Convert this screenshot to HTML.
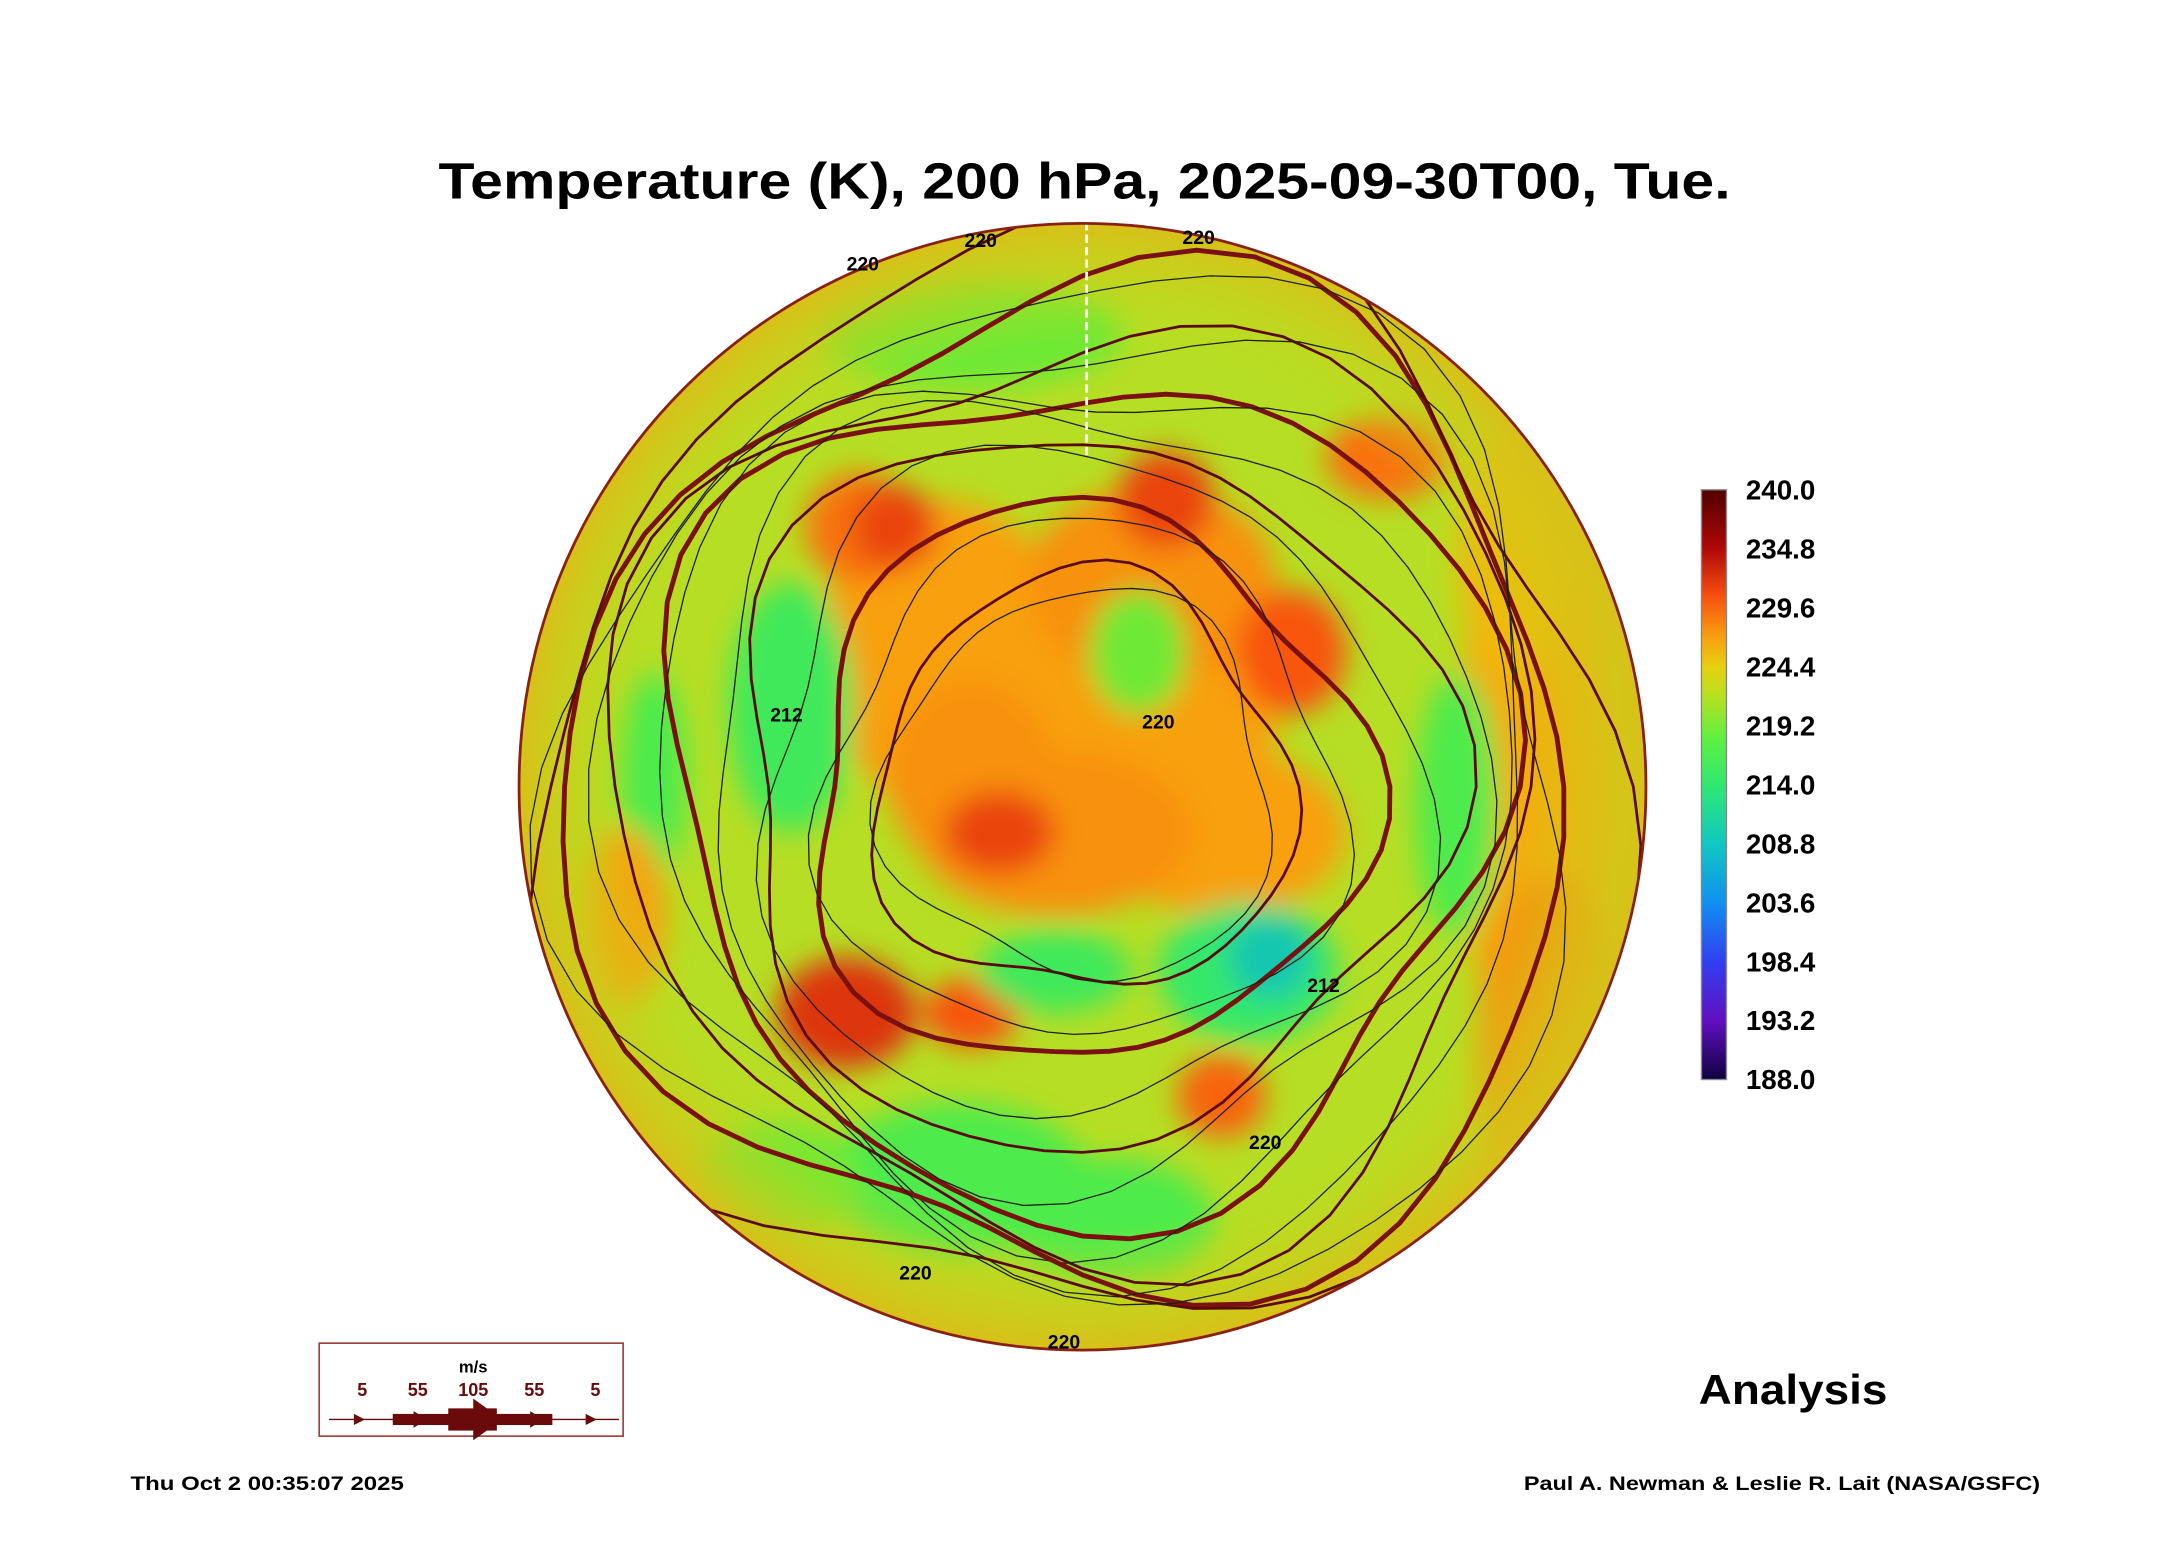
<!DOCTYPE html>
<html><head><meta charset="utf-8"><style>
html,body{margin:0;padding:0;background:#fff;}
svg{display:block;font-family:"Liberation Sans",sans-serif;}
</style></head><body>
<svg width="2165" height="1561" viewBox="0 0 1560 1125" preserveAspectRatio="none" xmlns="http://www.w3.org/2000/svg">
<defs>
<clipPath id="disk"><circle cx="780" cy="567" r="406"/></clipPath>
<filter id="blur" x="-20%" y="-20%" width="140%" height="140%"><feGaussianBlur stdDeviation="10"/></filter>
<linearGradient id="cbar" x1="0" y1="1" x2="0" y2="0">
<stop offset="0" stop-color="#100040"/><stop offset="0.1" stop-color="#6010c0"/><stop offset="0.2" stop-color="#3040f0"/><stop offset="0.3" stop-color="#1090f0"/><stop offset="0.4" stop-color="#10c8c0"/><stop offset="0.5" stop-color="#30e870"/><stop offset="0.58" stop-color="#60f040"/><stop offset="0.65" stop-color="#b8e020"/><stop offset="0.7" stop-color="#e8d010"/><stop offset="0.75" stop-color="#f8a010"/><stop offset="0.82" stop-color="#f85010"/><stop offset="0.9" stop-color="#b00808"/><stop offset="1" stop-color="#500000"/>
</linearGradient>
<radialGradient id="rim" cx="0.5" cy="0.5" r="0.5"><stop offset="0.78" stop-color="#c0dc1c" stop-opacity="0"/><stop offset="1" stop-color="#d8c018"/></radialGradient>
</defs>
<text x="316" y="143" font-size="37" font-weight="bold" textLength="931" lengthAdjust="spacingAndGlyphs">Temperature (K), 200 hPa, 2025-09-30T00, Tue.</text>

<g clip-path="url(#disk)">
<circle cx="780" cy="567" r="406" fill="#b6de24"/>
<g filter="url(#blur)" id="blobs"></g>
<circle cx="780" cy="567" r="406" fill="url(#rim)"/>
<g id="lines" fill="none"></g>
<line x1="783" y1="160" x2="783" y2="330" stroke="#fff" stroke-width="2" stroke-dasharray="6 3"/>
</g>
<circle cx="780" cy="567" r="406" fill="none" stroke="#8a2010" stroke-width="2"/>
<g font-size="14" font-weight="bold">
<text x="695" y="178">220</text><text x="852" y="176">220</text><text x="610" y="195">220</text>
<text x="900" y="828">220</text><text x="648" y="922">220</text><text x="755" y="972">220</text>
<text x="555" y="520">212</text><text x="942" y="715">212</text><text x="823" y="525">220</text>
</g>

<g id="colorbar"></g>

<g>
<rect x="230" y="968" width="219" height="67" fill="#fff" stroke="#a04040" stroke-width="1.2"/>
<text x="341" y="989" font-size="12" font-weight="bold" text-anchor="middle">m/s</text>
<g fill="#6a0a0a" font-size="13" font-weight="bold" text-anchor="middle">
<text x="261" y="1006">5</text><text x="301" y="1006">55</text><text x="341" y="1006">105</text><text x="385" y="1006">55</text><text x="429" y="1006">5</text>
</g>
<line x1="237" y1="1023" x2="446" y2="1023" stroke="#6a0a0a" stroke-width="1"/>
<rect x="283" y="1019" width="58" height="8" fill="#6a0a0a"/>
<rect x="340" y="1019" width="58" height="8" fill="#6a0a0a"/>
<rect x="323" y="1015" width="35" height="16" fill="#6a0a0a"/>
<polygon points="341,1008 362,1023 341,1038" fill="#6a0a0a"/>
<polygon points="255,1019 263,1023 255,1027" fill="#6a0a0a"/>
<polygon points="422,1019 430,1023 422,1027" fill="#6a0a0a"/>
<polygon points="298,1017 308,1023 298,1029" fill="#6a0a0a"/>
<polygon points="382,1017 392,1023 382,1029" fill="#6a0a0a"/>
</g>
<text x="1224" y="1012" font-size="30" font-weight="bold" textLength="136" lengthAdjust="spacingAndGlyphs">Analysis</text>
<text x="94" y="1074" font-size="14" font-weight="bold" textLength="197" lengthAdjust="spacingAndGlyphs">Thu Oct  2 00:35:07 2025</text>
<text x="1098" y="1074" font-size="14" font-weight="bold" textLength="372" lengthAdjust="spacingAndGlyphs">Paul A. Newman &amp; Leslie R. Lait (NASA/GSFC)</text>
</svg>
<script>
const NS='http://www.w3.org/2000/svg';
const cbTicks=[240.0,234.8,229.6,224.4,219.2,214.0,208.8,203.6,198.4,193.2,188.0];
const cbMin=188.0, cbMax=240.0;
// temperature blobs: [cx, cy, rx, ry, tempK]
const blobCx=[1110,1120,770,680,830,880,760,620,700,645,840,930,720,610,700,880,570,820,900,915,760,690,800,1050,700,470,1000,450,560,1090];
const blobCy=[560,760,520,470,420,600,600,380,560,380,360,470,600,730,730,790,510,470,700,690,700,850,880,580,240,560,330,660,850,400];
const blobRx=[60,55,150,90,90,90,100,40,60,30,35,40,40,50,35,32,45,35,65,30,55,95,75,30,110,25,45,30,60,40];
const blobRy=[220,130,110,110,70,60,60,40,70,30,35,45,30,40,25,30,90,45,50,30,30,55,45,95,40,75,30,65,40,90];
const blobT=[223,225,224,224,225,224,225,227,225,230,230,229,230,231,229,228,211,214,210,205,211,212,212,212,214,212,227,224,214,222];
function yScale(v){return 353+(cbMax-v)/(cbMax-cbMin)*(778-353);}
function tempColor(t){
  const stops=[[188,[16,0,64]],[198,[48,70,240]],[204,[16,190,190]],[209,[40,230,120]],[213,[90,236,60]],[217,[170,224,32]],[220,[232,208,16]],[224,[248,160,16]],[229,[248,84,16]],[234,[180,10,10]],[240,[80,0,0]]];
  for(let i=1;i<stops.length;i++){if(t<=stops[i][0]){const a=stops[i-1],b=stops[i];const f=(t-a[0])/(b[0]-a[0]);return 'rgb('+a[1].map((c,k)=>Math.round(c+(b[1][k]-c)*f)).join(',')+')';}}
  return 'rgb(80,0,0)';
}
const bg=document.getElementById('blobs');
for(let i=0;i<blobCx.length;i++){
  const e=document.createElementNS(NS,'ellipse');
  e.setAttribute('cx',blobCx[i]);e.setAttribute('cy',blobCy[i]);
  e.setAttribute('rx',blobRx[i]);e.setAttribute('ry',blobRy[i]);
  e.setAttribute('fill',tempColor(blobT[i]));
  
  
  bg.appendChild(e);
}
// streamlines (jet rings) radii
const streamR=[150,200,255,300,330,360,390];
const lg=document.getElementById('lines');
streamR.forEach((r,i)=>{
  const p=document.createElementNS(NS,'path');
  let d='';
  for(let a=0;a<=360;a+=6){const rad=a*Math.PI/180;const rr=r*(1+0.08*Math.sin(3*rad+i)+0.04*Math.cos(5*rad));
    d+=(a?'L':'M')+(780+rr*Math.cos(rad)).toFixed(1)+','+(567+rr*Math.sin(rad)).toFixed(1);}
  p.setAttribute('d',d+'Z');
  p.setAttribute('stroke',i%2?'#7a1010':'#5a0a0a');
  p.setAttribute('stroke-width',i%2?3.5:2);
  
  
  lg.appendChild(p);
  const c=document.createElementNS(NS,'path');
  c.setAttribute('d',d);
  c.setAttribute('transform','translate(780 567) scale(0.93) rotate(20) translate(-780 -567)');
  c.setAttribute('stroke','#202010');c.setAttribute('stroke-width','1');
  
  
  lg.appendChild(c);
});
// colorbar
const cb=document.getElementById('colorbar');
const r=document.createElementNS(NS,'rect');
r.setAttribute('x',1226);r.setAttribute('y',353);r.setAttribute('width',18);r.setAttribute('height',425);
r.setAttribute('fill','url(#cbar)');r.setAttribute('stroke','#888');r.setAttribute('stroke-width','1');


cb.appendChild(r);
cbTicks.forEach(v=>{
  const y=yScale(v);
  const t=document.createElementNS(NS,'text');
  t.setAttribute('x',1258);t.setAttribute('y',y+7);t.setAttribute('font-size','20');t.setAttribute('font-weight','bold');
  t.textContent=v.toFixed(1);
  
  
  cb.appendChild(t);
});
</script>
</body></html>
